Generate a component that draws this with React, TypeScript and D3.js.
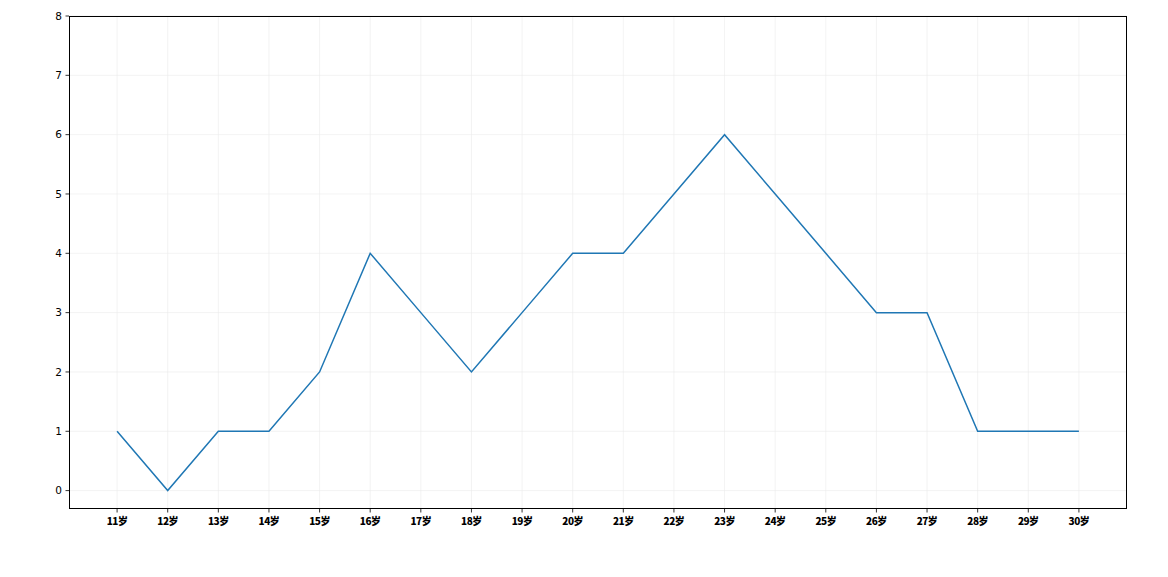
import React from "react";
import * as d3 from "d3";

const categories = ["11岁","12岁","13岁","14岁","15岁","16岁","17岁","18岁","19岁","20岁","21岁","22岁","23岁","24岁","25岁","26岁","27岁","28岁","29岁","30岁"];
const values = [1,0,1,1,2,4,3,2,3,4,4,5,6,5,4,3,3,1,1,1];
const yTicks = [0,1,2,3,4,5,6,7,8];

export default function App() {
  const W = 1168, H = 577;
  const left = 69, right = 1127, top = 16, bottom = 509;
  const x = d3.scaleLinear().domain([-0.95, categories.length - 1 + 0.95]).range([left, right]);
  const y = d3.scaleLinear().domain([-0.31, 8]).range([bottom, top]);
  const line = d3.line<number>().x((_, i) => x(i)).y(d => y(d));
  return (
    <svg width={W} height={H} style={{ position: "absolute", left: 0, top: 0 }}>
      <rect x={0} y={0} width={W} height={H} fill="#fff" />
      {categories.map((c, i) => (
        <line key={"gx" + i} x1={x(i)} x2={x(i)} y1={top} y2={bottom} stroke="#ebebeb" strokeWidth={0.6} />
      ))}
      {yTicks.map(t => (
        <line key={"gy" + t} x1={left} x2={right} y1={y(t)} y2={y(t)} stroke="#ebebeb" strokeWidth={0.6} />
      ))}
      <path d={line(values) || ""} fill="none" stroke="#1f77b4" strokeWidth={1.5} />
      <rect x={left + 0.5} y={top + 0.5} width={right - left - 1} height={bottom - top - 1} fill="none" stroke="#000" strokeWidth={1} />
      {yTicks.map(t => (
        <g key={"ty" + t}>
          <line x1={left - 3.5} x2={left} y1={y(t)} y2={y(t)} stroke="#000" strokeWidth={0.8} />
          <text x={left - 7} y={y(t)} dy="0.35em" textAnchor="end" fontFamily="DejaVu Sans" fontSize={10.5} fill="#000">{t}</text>
        </g>
      ))}
      {categories.map((c, i) => (
        <g key={"tx" + i}>
          <line x1={x(i)} x2={x(i)} y1={bottom} y2={bottom + 3.5} stroke="#000" strokeWidth={0.8} />
          <text x={x(i)} y={bottom + 16} textAnchor="middle" fontFamily="Noto Sans CJK SC" fontWeight={900} fontSize={10} fill="#000" letterSpacing={-0.5}>{c}</text>
        </g>
      ))}
    </svg>
  );
}
